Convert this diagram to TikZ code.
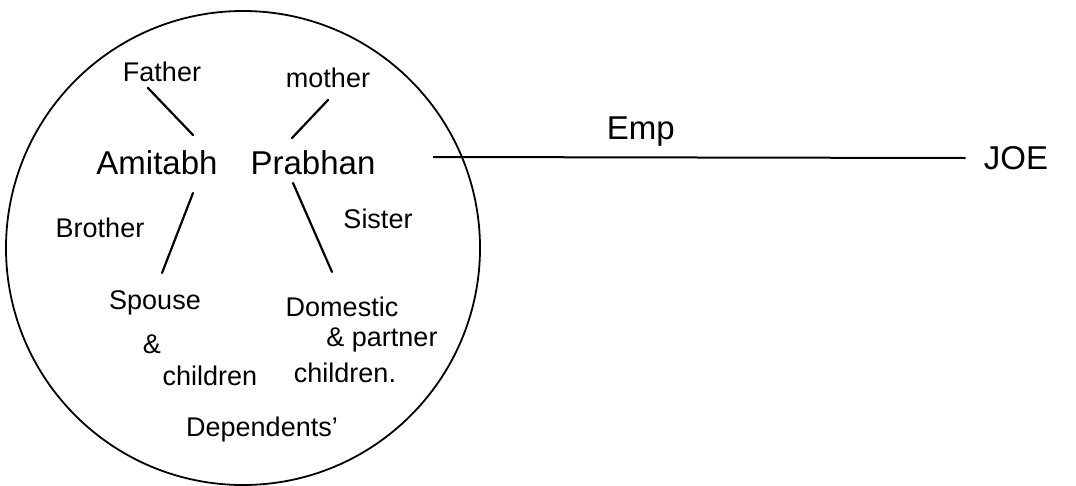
\documentclass[tikz,border=0pt]{standalone}
\usepackage{fontspec}
\setmainfont{Liberation Sans}
\usetikzlibrary{calc}
\tikzset{
  lbl/.style={inner sep=0pt, font=\fontsize{27}{30}\selectfont},
  big/.style={inner sep=0pt, font=\fontsize{33}{36}\selectfont},
  link/.style={line width=2.2pt, line cap=round},
  ring/.style={circle, draw, line width=1.8pt, minimum size=474pt, inner sep=0pt}
}
\begin{document}
\begin{tikzpicture}[x=1pt,y=-1pt]
\useasboundingbox (0,0) rectangle (1076,485);
\begin{scope}
\clip (0,0) rectangle (1076,485);
\node[ring] (c) at (243,248) {};
\end{scope}
\node[lbl] (father) at (162,72) {Father};
\node[lbl] (mother) at (328,78) {mother};
\node[big] (amitabh) at (157,163) {Amitabh};
\node[big] (prabhan) at (313,163) {Prabhan};
\node[lbl] (brother) at (100,228) {Brother};
\node[lbl] (sister) at (378,219) {Sister};
\node[lbl] (spouse) at (155,303) {Spouse};
\node[lbl] (amp1) at (152,344) {\&};
\node[lbl] (children1) at (210,376) {children};
\node[lbl] (domestic) at (342,307) {Domestic};
\node[lbl] (partner) at (382,340) {\& partner};
\node[lbl] (children2) at (345,373) {children.};
\node[lbl] (dep) at (262,430) {Dependents'};
\node[big] (joe) at (1016,158) {JOE};
\coordinate (start) at (433,157);
\draw[link] ([shift={(-14,16)}]father.center) -- ([shift={(36,-28)}]amitabh.center);
\draw[link] ([shift={(0,22)}]mother.center) -- ([shift={(-21,-25)}]prabhan.center);
\draw[link] ([shift={(36,30)}]amitabh.center) -- ([shift={(7,-30)}]spouse.center);
\draw[link] ([shift={(-20,20)}]prabhan.center) -- ([shift={(-10,-35)}]domestic.center);
\draw[line width=2pt] (start) -- node[pos=0.39, above=10pt, big] (emp) {Emp} ([xshift=-18pt]joe.west);
\end{tikzpicture}
\end{document}
